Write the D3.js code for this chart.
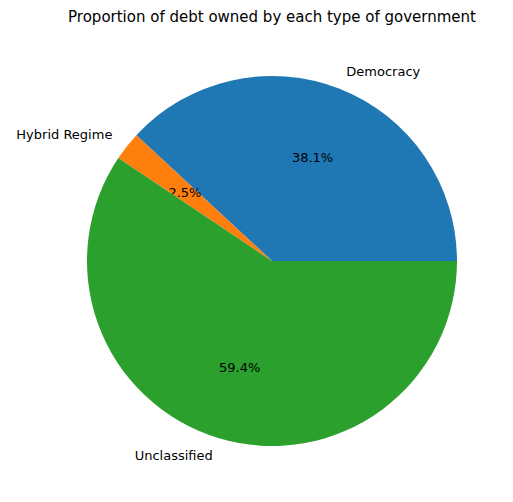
<!DOCTYPE html>
<html><head><meta charset="utf-8">
<script src="https://cdn.jsdelivr.net/npm/d3@7"></script>
<style>body{margin:0;background:#fff}text{font-family:"DejaVu Sans",sans-serif}</style>
</head><body>
<svg id="c" width="513" height="502"></svg>
<script>
const categories=["Democracy","Hybrid Regime","Unclassified"];
const values=[38.1,2.5,59.4];
const colors=["#1f77b4","#ff7f0e","#2ca02c"];
const svg=d3.select("#c");
const cx=272,cy=261,r=185;
svg.append("text").attr("x",272).attr("y",22).attr("text-anchor","middle").attr("font-size",15).text("Proportion of debt owned by each type of government");
const total=d3.sum(values);
const g=svg.append("g").attr("transform",`translate(${cx},${cy})`);
const arc=d3.arc().innerRadius(0).outerRadius(r);
let cum=0;
values.forEach((v,i)=>{
  const t0=cum/total*2*Math.PI, t1=(cum+v)/total*2*Math.PI; cum+=v;
  g.append("path").attr("d",arc({startAngle:Math.PI/2-t0,endAngle:Math.PI/2-t1})).attr("fill",colors[i]);
  const m=(t0+t1)/2, c=Math.cos(m), s=Math.sin(m);
  g.append("text").attr("x",1.1*r*c).attr("y",-1.1*r*s).attr("dy","0.35em")
   .attr("text-anchor",c>=0?"start":"end").attr("font-size",13).text(categories[i]);
  g.append("text").attr("x",0.6*r*c).attr("y",-0.6*r*s).attr("dy","0.35em")
   .attr("text-anchor","middle").attr("font-size",13).text(d3.format(".1f")(v/total*100)+"%");
});
</script></body></html>
